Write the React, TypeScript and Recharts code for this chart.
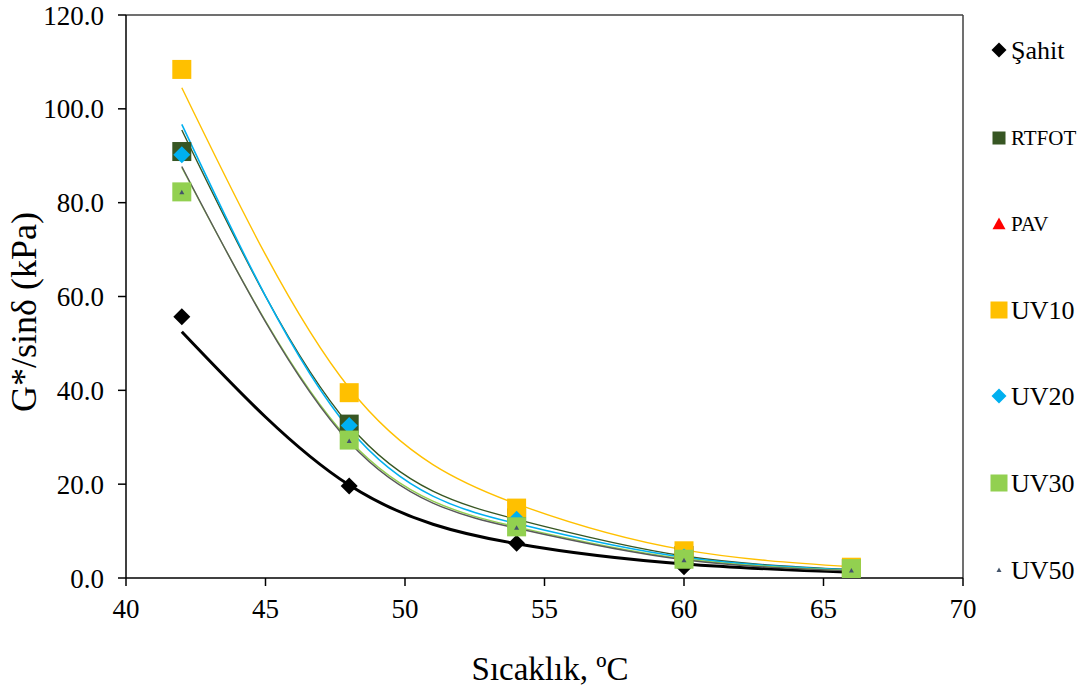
import React from "react";
import {
  ComposedChart,
  Scatter,
  Line,
  XAxis,
  YAxis,
  ReferenceLine,
  Label,
} from "recharts";

const temps = [42, 48, 54, 60, 66];
const xTicks = [40, 45, 50, 55, 60, 65, 70];
const yTicks = [0, 20, 40, 60, 80, 100, 120];

// measured points
const sahit = [55.7, 19.6, 7.4, 2.4, 1.2];
const rtfot = [90.9, 32.8, 12.8, 4.8, 2.0];
const pav: number[] = [];
const uv10 = [108.4, 39.5, 14.9, 5.8, 2.3];
const uv20 = [90.2, 32.5, 12.5, 4.5, 1.9];
const uv30 = [82.3, 29.4, 10.9, 4.0, 2.0];
const uv50 = [82.2, 29.2, 10.7, 3.8, 1.6];

// trend lines
const sahitFit = [52.5, 19.8, 7.3, 3.0, 1.2];
const rtfotFit = [95.5, 32.6, 12.5, 4.7, 1.8];
const uv10Fit = [104.5, 40.5, 15.8, 6.0, 2.4];
const uv20Fit = [96.7, 31.8, 11.6, 4.4, 1.7];
const uv30Fit = [87.5, 29.4, 10.9, 4.1, 1.6];
const uv50Fit = [87.7, 29.0, 10.6, 3.9, 1.5];

const FONT = "'Liberation Serif', 'Times New Roman', serif";

const toPts = (vals: number[]) => vals.map((y, i) => ({ x: temps[i], y }));

type Kind = "diamond" | "square" | "triangle";

const marker = (kind: Kind, color: string, s: number) => (p: any) => {
  const { cx, cy } = p;
  if (cx == null || cy == null) return <g />;
  const h = s / 2;
  if (kind === "square")
    return <rect x={cx - h} y={cy - h} width={s} height={s} fill={color} />;
  if (kind === "diamond")
    return (
      <path
        d={`M${cx},${cy - h}L${cx + h},${cy}L${cx},${cy + h}L${cx - h},${cy}Z`}
        fill={color}
      />
    );
  return (
    <path
      d={`M${cx},${cy - h}L${cx + h},${cy + h * 0.8}L${cx - h},${cy + h * 0.8}Z`}
      fill={color}
    />
  );
};

const series = [
  { name: "Şahit", data: sahit, fit: sahitFit, color: "#000000", line: "#000000", kind: "diamond" as Kind, size: 17, lw: 3, fs: 26, ls: 15 },
  { name: "RTFOT", data: rtfot, fit: rtfotFit, color: "#375623", line: "#375623", kind: "square" as Kind, size: 19, lw: 1.4, fs: 21, ls: 13 },
  { name: "PAV", data: pav, fit: [] as number[], color: "#FF0000", line: "#FF0000", kind: "triangle" as Kind, size: 10, lw: 1.4, fs: 21, ls: 13 },
  { name: "UV10", data: uv10, fit: uv10Fit, color: "#FFC000", line: "#FFC000", kind: "square" as Kind, size: 19, lw: 1.4, fs: 26, ls: 17 },
  { name: "UV20", data: uv20, fit: uv20Fit, color: "#00B0F0", line: "#00B0F0", kind: "diamond" as Kind, size: 17, lw: 1.6, fs: 26, ls: 15 },
  { name: "UV30", data: uv30, fit: uv30Fit, color: "#92D050", line: "#92D050", kind: "square" as Kind, size: 19, lw: 1.4, fs: 26, ls: 17 },
  { name: "UV50", data: uv50, fit: uv50Fit, color: "#44546A", line: "#595959", kind: "triangle" as Kind, size: 5, lw: 1.4, fs: 26, ls: 5 },
];

const legendY = [50, 138, 224, 310, 396, 483, 570];

const LegendBox = () => (
  <svg
    width={103}
    height={600}
    style={{ position: "absolute", left: 985, top: 0, display: "block" }}
  >
    {series.map((s, i) => {
      const y = legendY[i];
      return (
        <g key={s.name}>
          {marker(s.kind, s.color, s.ls)({ cx: 14, cy: y })}
          <text
            x={26}
            y={y}
            dominantBaseline="central"
            fontFamily={FONT}
            fontSize={s.fs}
            fill="#000"
          >
            {s.name}
          </text>
        </g>
      );
    })}
  </svg>
);

export default function App() {
  return (
    <div
      style={{
        position: "absolute",
        left: 0,
        top: 0,
        width: 1088,
        height: 691,
        background: "#fff",
        fontFamily: FONT,
      }}
    >
      <ComposedChart
        width={1088}
        height={691}
        margin={{ top: 15, right: 125, bottom: 53, left: 0 }}
      >
        <XAxis
          type="number"
          dataKey="x"
          domain={[40, 70]}
          ticks={xTicks}
          allowDataOverflow
          height={60}
          tickSize={8}
          tickMargin={13}
          stroke="#000"
          strokeWidth={1.5}
          tick={{ fill: "#000", fontFamily: FONT, fontSize: 27 }}
        >
          <Label
            content={() => (
              <text x={550} y={680} textAnchor="middle" fontFamily={FONT} fontSize={33} fill="#000">
                Sıcaklık, ºC
              </text>
            )}
          />
        </XAxis>
        <YAxis
          type="number"
          dataKey="y"
          domain={[0, 120]}
          ticks={yTicks}
          allowDataOverflow
          width={126}
          tickSize={8}
          tickMargin={14}
          stroke="#000"
          strokeWidth={1.5}
          tickFormatter={(v: number) => v.toFixed(1)}
          tick={{ fill: "#000", fontFamily: FONT, fontSize: 27 }}
        >
          <Label
            content={() => (
              <text
                x={24}
                y={312}
                transform="rotate(-90 24 312)"
                textAnchor="middle"
                dominantBaseline="central"
                fontFamily={FONT}
                fontSize={36}
                fill="#000"
              >
                G*/sinδ (kPa)
              </text>
            )}
          />
        </YAxis>
        <ReferenceLine y={120} stroke="#404040" strokeWidth={1.5} />
        <ReferenceLine x={70} stroke="#404040" strokeWidth={1.5} />
        {series.map((s) => (
          <Scatter
            key={"pts-" + s.name}
            name={s.name}
            data={toPts(s.data)}
            fill={s.color}
            shape={marker(s.kind, s.color, s.size)}
            isAnimationActive={false}
          />
        ))}
        {series
          .filter((s) => s.fit.length > 0)
          .map((s) => (
            <Line
              key={"fit-" + s.name}
              data={toPts(s.fit)}
              dataKey="y"
              type="natural"
              stroke={s.line}
              strokeWidth={s.lw}
              dot={false}
              activeDot={false}
              legendType="none"
              isAnimationActive={false}
            />
          ))}
      </ComposedChart>
      <LegendBox />
    </div>
  );
}
